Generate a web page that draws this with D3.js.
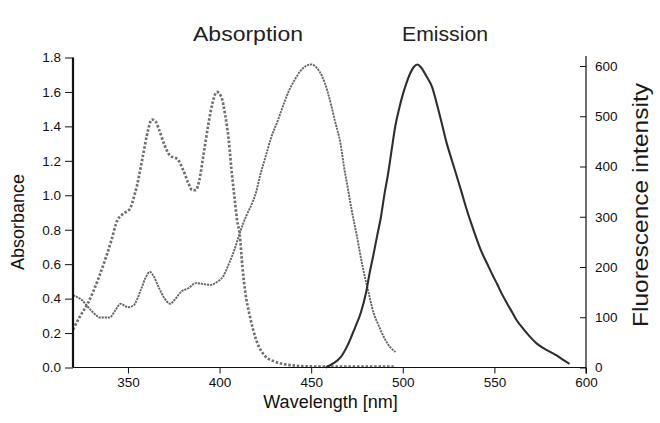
<!DOCTYPE html>
<html>
<head>
<meta charset="utf-8">
<script src="https://cdn.jsdelivr.net/npm/d3@7"></script>
<style>
  html, body { margin: 0; padding: 0; background: #fff; }
  svg { display: block; font-family: "Liberation Sans", Arial, Helvetica, sans-serif; }
</style>
</head>
<body>
<svg id="chart" width="660" height="423"></svg>
<script>
// ---- data ----
const absWavelength = [320,324,328,331,334,338,341,344,347,351,353,355,358,361,363,365,367,370,373,377,380,383,385,387,389,391,394,396,398.5,401,403,405,406.5,408,409.5,411,412.5,414,416.5,420,425,430,435,442,450,460,475,495];
const absValues     = [0.22,0.30,0.37,0.44,0.52,0.64,0.74,0.85,0.89,0.92,0.98,1.06,1.22,1.38,1.44,1.43,1.38,1.29,1.23,1.21,1.15,1.07,1.03,1.03,1.09,1.22,1.42,1.53,1.60,1.57,1.47,1.32,1.15,1.00,0.86,0.77,0.58,0.44,0.30,0.16,0.065,0.035,0.02,0.01,0.006,0.005,0.005,0.005];

const abs2Wavelength = [320,325,330,335,340,343,346,350,353,357,360,362,364,367,370,373,376,379,383,387,391,395,399,402,405,408,411,413,415,418,420,422,425,428,432,435,438,441,444,447,450,453,456,459,461,463,466,468,470,472,475,478,481,484,487,490,493,496];
const abs2Values     = [0.42,0.39,0.33,0.29,0.29,0.33,0.37,0.35,0.36,0.45,0.53,0.555,0.53,0.46,0.40,0.37,0.40,0.44,0.46,0.49,0.485,0.48,0.50,0.53,0.60,0.68,0.78,0.84,0.89,0.96,1.02,1.11,1.22,1.33,1.44,1.53,1.61,1.67,1.72,1.75,1.76,1.74,1.69,1.60,1.52,1.43,1.30,1.16,1.04,0.92,0.76,0.59,0.45,0.32,0.24,0.17,0.12,0.09];

const emWavelength = [458,462,466,470,474,477,480,482,484,486,488,490,492,494,496,498,500,502,504,506,508,510,513,516,518.5,521,524,527,529.5,532,535,538,540.5,543,546,549,551.5,554,557,560,562,566,569.5,573,577,581,584,588,591];
const emValues     = [0,8,20,45,80,108,150,190,225,262,298,345,386,435,482,515,543,566,585,598,603,597,579,558,526,490,446,410,380,350,313,280,254,230,207,184,166,147,127,108,95,76,61,48,38,30,24,14,7];

const xTicks = [350,400,450,500,550,600];
const leftTicks = [0,0.2,0.4,0.6,0.8,1.0,1.2,1.4,1.6,1.8];
const rightTicks = [0,100,200,300,400,500,600];

const topLabels = ["Absorption","Emission"];
const xTitle = "Wavelength [nm]";
const leftTitle = "Absorbance";
const rightTitle = "Fluorescence intensity";

// ---- scales ----
const x  = d3.scaleLinear().domain([320,600]).range([73,586]);
const yL = d3.scaleLinear().domain([0,1.8]).range([367.5,57.5]);
const yR = d3.scaleLinear().domain([0,600]).range([367.5,66]);

const svg = d3.select("#chart");

// ---- curves ----
const zip = (xs, ys) => xs.map((v,i) => [v, ys[i]]);
const lineL = d3.line().x(d => x(d[0])).y(d => yL(d[1])).curve(d3.curveMonotoneX);
const lineR = d3.line().x(d => x(d[0])).y(d => yR(d[1])).curve(d3.curveMonotoneX);

svg.append("path").datum(zip(abs2Wavelength, abs2Values))
  .attr("d", lineL).attr("fill","none")
  .attr("stroke","#666").attr("stroke-width",1.9).attr("stroke-dasharray","2.2,0.9");

svg.append("path").datum(zip(absWavelength, absValues))
  .attr("d", lineL).attr("fill","none")
  .attr("stroke","#707070").attr("stroke-width",2.7).attr("stroke-dasharray","2.5,1.8");

svg.append("path").datum(zip(emWavelength, emValues))
  .attr("d", lineR).attr("fill","none")
  .attr("stroke","#2e2e2e").attr("stroke-width",2.1);

// ---- axes ----
const gx = svg.append("g").attr("transform","translate(0,367.5)")
  .call(d3.axisBottom(x).tickValues(xTicks).tickFormat(d3.format("d")).tickSize(6).tickSizeOuter(0).tickPadding(4));
const gl = svg.append("g").attr("transform","translate(73,0)")
  .call(d3.axisLeft(yL).tickValues(leftTicks).tickFormat(d3.format(".1f")).tickSize(8).tickSizeOuter(0).tickPadding(4));
const gr = svg.append("g").attr("transform","translate(586,0)")
  .call(d3.axisRight(yR).tickValues(rightTicks).tickFormat(d3.format("d")).tickSize(-6).tickSizeOuter(0).tickPadding(9));

[gx, gl, gr].forEach(g => {
  g.selectAll("text").attr("font-size", 13.5).attr("fill","#111")
    .attr("font-family","'Liberation Sans', Arial, sans-serif");
  g.selectAll(".tick line").attr("stroke","#111");
  g.select(".domain").remove();
});

// axis lines
svg.append("line").attr("x1",x(320)).attr("x2",x(600)).attr("y1",yL(0)).attr("y2",yL(0))
  .attr("stroke","#111").attr("stroke-width",1.2);
svg.append("line").attr("x1",x(320)).attr("x2",x(320)).attr("y1",yL(1.8)).attr("y2",yL(0))
  .attr("stroke","#111").attr("stroke-width",2.2);
svg.append("line").attr("x1",x(600)).attr("x2",x(600)).attr("y1",yL(1.8)-1.5).attr("y2",yL(0)+6)
  .attr("stroke","#111").attr("stroke-width",1.2);

// ---- titles ----
svg.append("text").attr("x",193).attr("y",41).attr("font-size",21).attr("fill","#222")
  .attr("textLength",110).attr("lengthAdjust","spacingAndGlyphs").text(topLabels[0]);
svg.append("text").attr("x",402).attr("y",41).attr("font-size",21).attr("fill","#222")
  .attr("textLength",86).attr("lengthAdjust","spacingAndGlyphs").text(topLabels[1]);

svg.append("text").attr("x",330.5).attr("y",408).attr("font-size",18).attr("fill","#111")
  .attr("text-anchor","middle").text(xTitle);

svg.append("text").attr("transform","translate(24,222) rotate(-90)")
  .attr("font-size",18).attr("fill","#111").attr("text-anchor","middle")
  .attr("textLength",96).attr("lengthAdjust","spacingAndGlyphs").text(leftTitle);

svg.append("text").attr("transform","translate(648,205) rotate(-90)")
  .attr("font-size",22).attr("fill","#1a1a1a").attr("text-anchor","middle")
  .attr("textLength",244).attr("lengthAdjust","spacingAndGlyphs").text(rightTitle);
</script>
</body>
</html>
